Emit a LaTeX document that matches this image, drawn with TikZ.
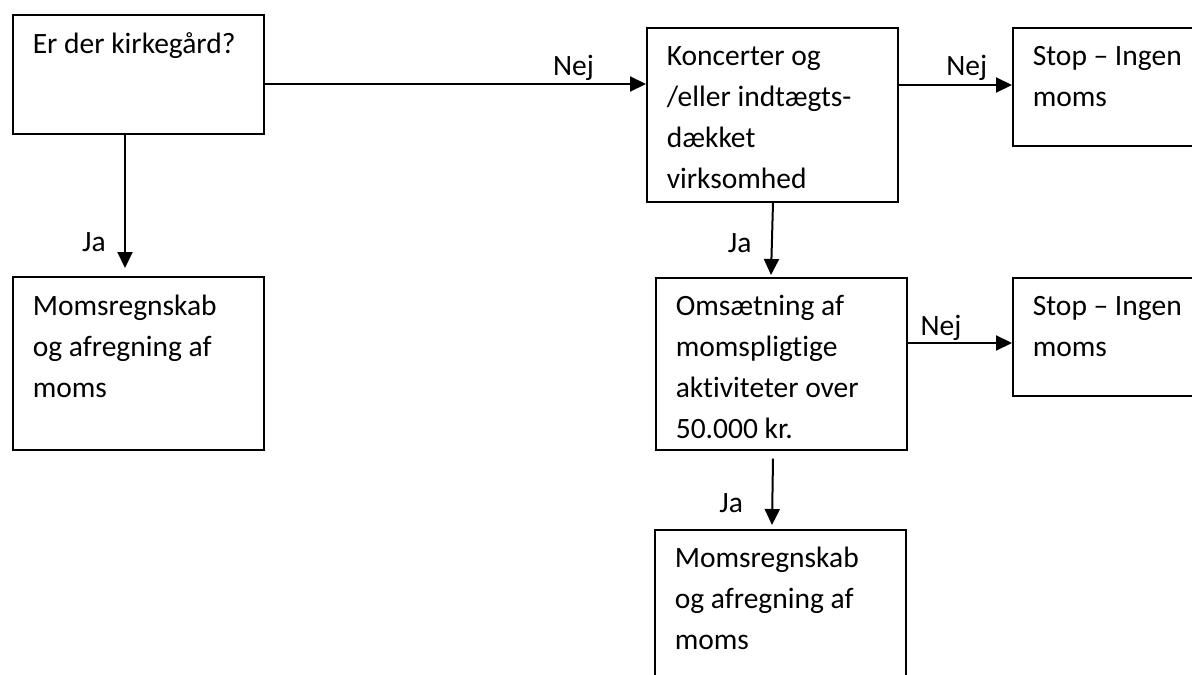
\documentclass[tikz,border=0pt]{standalone}
\usepackage{fontspec}
\setmainfont{Carlito}[Ligatures={TeX,NoCommon}]
\usepackage{tikz}
\usetikzlibrary{arrows.meta}

\tikzset{
  flowbox/.style={draw, line width=1.6pt, anchor=north west, align=flush left,
    inner xsep=20pt, inner ysep=0pt, text width=211pt,
    font=\fontsize{29.5pt}{41pt}\selectfont},
  flowarrow/.style={line width=2pt, -{Triangle[length=16pt,width=15pt]}},
  answer/.style={anchor=base, font=\fontsize{29.5pt}{41pt}\selectfont}
}

\begin{document}
\begin{tikzpicture}[x=1pt,y=-1pt]
\clip (0,0) rectangle (1192,675);

\node[flowbox, text height=39pt, text depth=80pt] (kirke) at (12,14) {Er der kirkegård?};
\node[flowbox, text height=39pt, text depth=134pt] (moms1) at (12,276) {Momsregnskab\\og afregning af\\moms};
\node[flowbox, text height=38pt, text depth=136pt] (koncert) at (646,27) {Koncerter og\\/eller indtægts-\\dækket\\virksomhed};
\node[flowbox, text height=38pt, text depth=80pt] (stop1) at (1012,27) {Stop – Ingen\\moms};
\node[flowbox, text height=38pt, text depth=134pt] (omsaet) at (655,277) {Omsætning af\\momspligtige\\aktiviteter over\\50.000 kr.};
\node[flowbox, text height=38pt, text depth=80pt] (stop2) at (1012,277) {Stop – Ingen\\moms};
\node[flowbox, text height=38pt, text depth=134pt] (moms2) at (654,529) {Momsregnskab\\og afregning af\\moms};

% Nej-grene
\draw[flowarrow] ([yshift=-70pt]kirke.north east) -- ([yshift=-57pt]koncert.north west) node[answer, pos=0.81, yshift=9pt] {Nej};
\draw[flowarrow] ([yshift=-58pt]koncert.north east) -- ([yshift=-58pt]stop1.north west) node[answer, pos=0.6, yshift=10pt] {Nej};
\draw[flowarrow] ([yshift=-66pt]omsaet.north east) -- ([yshift=-66pt]stop2.north west) node[answer, pos=0.32, yshift=8pt] {Nej};

% Ja-grene
\draw[flowarrow] ([xshift=113pt]kirke.south west) -- ([xshift=113pt,yshift=8pt]moms1.north west) node[answer, pos=0.88, xshift=-31pt] {Ja};
\draw[flowarrow] ([xshift=127pt]koncert.south west) -- ([xshift=116pt,yshift=2pt]omsaet.north west) node[answer, pos=0.69, xshift=-32pt] {Ja};
\draw[flowarrow] ([xshift=118pt,yshift=-8pt]omsaet.south west) -- ([xshift=118pt,yshift=4pt]moms2.north west) node[answer, pos=0.81, xshift=-41pt] {Ja};
\end{tikzpicture}
\end{document}
